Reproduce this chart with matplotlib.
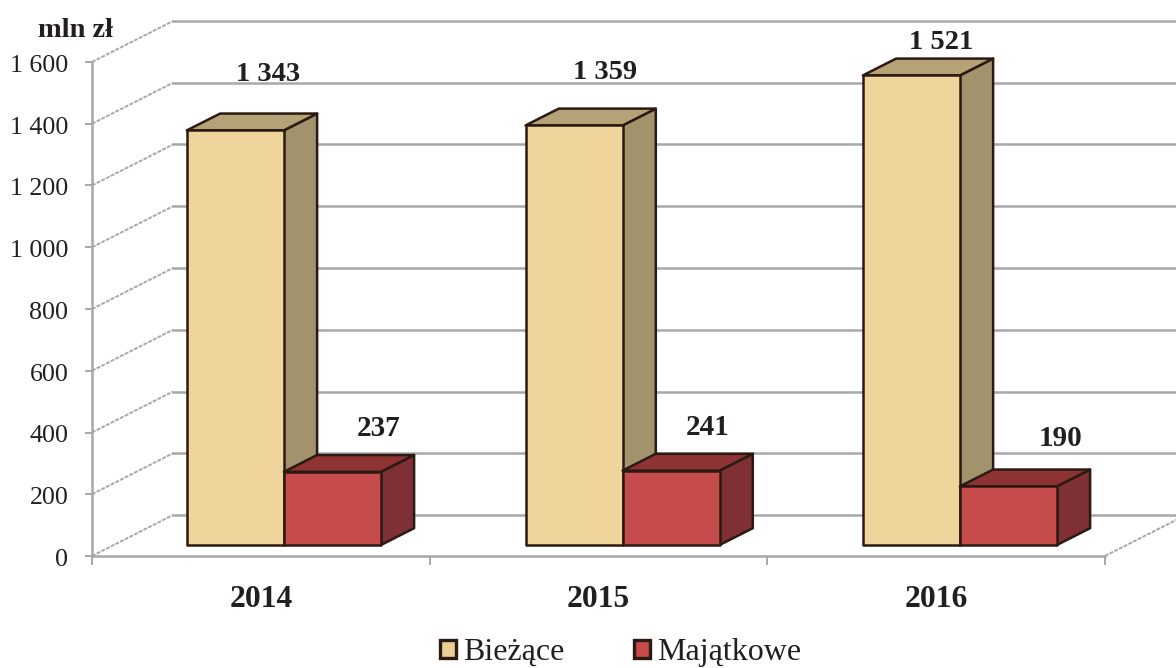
import matplotlib
matplotlib.use('Agg')
import matplotlib.pyplot as plt
from matplotlib.patches import Polygon, Patch
from matplotlib.transforms import ScaledTranslation

plt.rcParams['font.family'] = ['Liberation Serif', 'DejaVu Serif']

lata = ['2014', '2015', '2016']
biezace = [1343, 1359, 1521]
majatkowe = [237, 241, 190]
etykiety_b = ['1 343', '1 359', '1 521']
etykiety_m = ['237', '241', '190']
wartosci_osi = [0, 200, 400, 600, 800, 1000, 1200, 1400, 1600]
opisy_osi = ['0', '200', '400', '600', '800', '1 000', '1 200', '1 400', '1 600']

SZARY = '#a8a8a8'
TEKST = '#231f20'
KRAWEDZ = '#2b1a12'

# glebia 3D w jednostkach osi
GL_X = 81 / (1013 / 3)
GL_Y = 41 / (494 / 1600)
PODST = 0.268      # przod slupka
GLEB = 0.41        # glebokosc slupka
SZER = 97 / (1013 / 3)
# male przesuniecia slupkow wzgledem srodka kategorii
NUDGE = [0.004, 0.007, 0.006]

W, H = 1176, 668
fig = plt.figure(figsize=(W / 100, H / 100), dpi=100)
ax = fig.add_axes([92 / W, 1 - 556 / H, 1013 / W, 494 / H])
ax.set_xlim(0, 3)
ax.set_ylim(0, 1600)

for s in ['top', 'right']:
    ax.spines[s].set_visible(False)
for s in ['left', 'bottom']:
    ax.spines[s].set_color(SZARY)
    ax.spines[s].set_linewidth(1.8)

# sciany wykresu
for v in wartosci_osi:
    ax.plot([GL_X, 3 + GL_X], [v + GL_Y, v + GL_Y], color=SZARY, lw=1.8, clip_on=False, zorder=1)
    ax.plot([0, GL_X], [v, v + GL_Y], color=SZARY, lw=1.4, ls=(0, (2, 0.7)), clip_on=False, zorder=1)
ax.plot([3, 3 + GL_X], [0, GL_Y], color=SZARY, lw=1.4, ls=(0, (2, 0.7)), clip_on=False, zorder=1)


def slupek(x0, x1, v, przod, gora, bok, z):
    dx0 = PODST * GL_X
    dy0 = PODST * GL_Y
    dx = GLEB * GL_X
    dy = GLEB * GL_Y
    xa, xb = x0 + dx0, x1 + dx0
    y0, y1 = dy0, dy0 + v
    sciany = [
        ([(xb, y0), (xb + dx, y0 + dy), (xb + dx, y1 + dy), (xb, y1)], bok),
        ([(xa, y1), (xb, y1), (xb + dx, y1 + dy), (xa + dx, y1 + dy)], gora),
        ([(xa, y0), (xb, y0), (xb, y1), (xa, y1)], przod),
    ]
    for pkt, kol in sciany:
        ax.add_patch(Polygon(pkt, closed=True, facecolor=kol, edgecolor=KRAWEDZ,
                             lw=1.8, joinstyle='round', clip_on=False, zorder=z))


for i in range(len(lata)):
    c = i + 0.5 + NUDGE[i]
    slupek(c - SZER, c, biezace[i], '#efd59b', '#b5a377', '#a2936c', 3 + i * 2)
    slupek(c, c + SZER, majatkowe[i], '#c54c4b', '#8e3333', '#7e3034', 4 + i * 2)

# etykiety danych, przesuniecia w pikselach
przes_b = [(-14, 49), (-15, 46), (-17, 26)]
przes_m = [(96, 36), (87, 36), (103, 40)]
for i in range(len(lata)):
    c = i + 0.5
    ax.annotate(etykiety_b[i], (c + PODST * GL_X, biezace[i] + PODST * GL_Y), xytext=przes_b[i],
                textcoords='offset pixels', ha='center', va='baseline', fontsize=20.5,
                fontweight='bold', color=TEKST, zorder=20)
    ax.annotate(etykiety_m[i], (c + PODST * GL_X, majatkowe[i] + PODST * GL_Y), xytext=przes_m[i],
                textcoords='offset pixels', ha='center', va='baseline', fontsize=21,
                fontweight='bold', color=TEKST, zorder=20)

ax.set_yticks(wartosci_osi, opisy_osi, fontsize=18.7, color=TEKST)
ax.tick_params(axis='y', length=5, width=1.4, color=SZARY, pad=12)
ax.set_xticks([0, 1, 2, 3], ['', '', '', ''])
ax.tick_params(axis='x', which='major', length=6.5, width=1.4, color=SZARY)
ax.set_xticks([0.5, 1.5, 2.5], lata, minor=True, fontsize=22.7, fontweight='bold', color=TEKST)
ax.tick_params(axis='x', which='minor', length=0, pad=21)
# opisy osi y nieco nizej niz kreski
dol = ScaledTranslation(0, -4 / 100, fig.dpi_scale_trans)
for t in ax.get_yticklabels():
    t.set_verticalalignment('center')
    t.set_transform(t.get_transform() + dol)

fig.text(75 / W, 1 - 37 / H, 'mln zł', ha='center', va='baseline', fontsize=20.5,
         fontweight='bold', color=TEKST)

uchwyty = [Patch(facecolor='#e8cf95', edgecolor=KRAWEDZ, lw=2.4),
           Patch(facecolor='#c54c4b', edgecolor=KRAWEDZ, lw=2.4)]
fig.legend(uchwyty, ['Bieżące', 'Majątkowe'], loc='center', bbox_to_anchor=(620.5 / W, 1 - 652.5 / H),
           ncols=2, frameon=False, fontsize=23, labelcolor=TEKST, handlelength=0.5,
           handleheight=0.5, handletextpad=0.22, columnspacing=2.2, borderpad=0, borderaxespad=0)

fig.savefig('out.png', dpi=100)
